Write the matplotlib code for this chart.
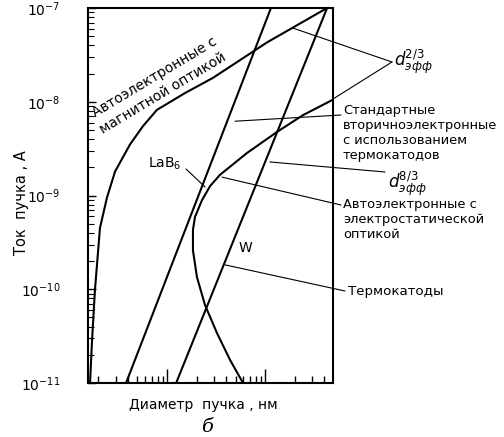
import numpy as np
import matplotlib.pyplot as plt
from matplotlib.ticker import LogLocator, NullFormatter

plt.rcParams['font.family'] = ['DejaVu Sans']

# Field emission, magnetic optics
mag_d = [1.64, 1.72, 1.84, 2.07, 2.44, 2.95, 4.19, 5.69, 7.9, 15.3, 29.5, 105, 430]
mag_i = [1e-11, 2.9e-11, 9.8e-11, 4.5e-10, 9.5e-10, 1.8e-9, 3.5e-9, 5.5e-9,
         8.2e-9, 1.24e-8, 1.8e-8, 4.3e-8, 1e-7]

# Field emission, electrostatic optics
es_d = [59.7, 44.0, 32.4, 24.4, 20.2, 18.4, 18.4, 19.3, 22.8, 27.5, 34.7, 65.5, 132, 244, 483]
es_i = [1e-11, 1.76e-11, 3.4e-11, 6.8e-11, 1.35e-10, 2.6e-10, 4.3e-10, 5.9e-10,
        8.96e-10, 1.26e-9, 1.66e-9, 2.84e-9, 4.75e-9, 7.2e-9, 1.04e-8]

# Thermionic cathodes (d^8/3)
lab6_d = [3.82, 115]
lab6_i = [1e-11, 1e-7]
w_d = [12.4, 430]
w_i = [1e-11, 1e-7]

W, H = 504, 437
fig = plt.figure(figsize=(W / 100, H / 100), dpi=100)
ax = fig.add_axes([88 / W, 1 - 383 / H, 245 / W, 375 / H])


def fp(px, py):
    return (px / W, 1 - py / H)


ax.plot(mag_d, mag_i, color='k', lw=1.5)
ax.plot(es_d, es_i, color='k', lw=1.5)
ax.plot(lab6_d, lab6_i, color='k', lw=1.5)
ax.plot(w_d, w_i, color='k', lw=1.5)

ax.set_xscale('log')
ax.set_yscale('log')
ax.set_xlim(1.563, 494)
ax.set_ylim(1e-11, 1e-7)

ax.xaxis.set_major_locator(LogLocator(base=10))
ax.xaxis.set_minor_locator(LogLocator(base=10, subs=np.arange(2, 10)))
ax.xaxis.set_major_formatter(NullFormatter())
ax.xaxis.set_minor_formatter(NullFormatter())
ax.yaxis.set_major_locator(LogLocator(base=10))
ax.yaxis.set_minor_locator(LogLocator(base=10, subs=np.arange(2, 10)))
ax.yaxis.set_minor_formatter(NullFormatter())

ax.tick_params(axis='x', which='major', direction='in', length=10, width=1)
ax.tick_params(axis='x', which='minor', direction='in', length=5, width=1)
ax.tick_params(axis='y', which='major', direction='in', length=6, width=1,
               labelsize=10, pad=20)
ax.tick_params(axis='y', which='minor', direction='in', length=4, width=0.8)
for s in ax.spines.values():
    s.set_linewidth(1.5)

fig.text(*fp(22, 203), 'Ток  пучка , А', fontsize=10.5, rotation=90,
         ha='center', va='center')
fig.text(*fp(203, 405), 'Диаметр  пучка , нм', fontsize=10, ha='center', va='center')
fig.text(*fp(207, 427), 'б', fontsize=14, ha='center', va='center',
         family='DejaVu Serif', style='italic')

# rotated label on magnetic curve
fig.text(*fp(95, 117), 'Автоэлектронные с', fontsize=10, rotation=31,
         rotation_mode='anchor', ha='left', va='baseline')
fig.text(*fp(103, 134), 'магнитной оптикой', fontsize=10, rotation=31,
         rotation_mode='anchor', ha='left', va='baseline')

fig.text(*fp(148, 164), 'LaB$_6$', fontsize=10, ha='left', va='center')
fig.text(*fp(245, 248), 'W', fontsize=10, ha='center', va='center')

fig.text(*fp(394, 62), 'd$^{2/3}_{эфф}$', fontsize=12, ha='left', va='center',
         style='italic')
fig.text(*fp(388, 184), 'd$^{8/3}_{эфф}$', fontsize=12, ha='left', va='center',
         style='italic')
fig.text(*fp(343, 104), 'Стандартные\nвторичноэлектронные\nс использованием\nтермокатодов',
         fontsize=9.4, ha='left', va='top', linespacing=1.2)
fig.text(*fp(343, 198), 'Автоэлектронные с\nэлектростатической\nоптикой',
         fontsize=9.4, ha='left', va='top', linespacing=1.2)
fig.text(*fp(348, 291), 'Термокатоды', fontsize=9.6, ha='left', va='center')

lead = dict(arrowstyle='-', lw=0.8, color='k', shrinkA=0, shrinkB=0)


def leader(xy, px, py):
    ax.annotate('', xy=xy, xycoords='data', xytext=fp(px, py),
                textcoords='figure fraction', arrowprops=lead,
                annotation_clip=False)


leader((193, 6.1e-8), 392, 62)
leader((480, 1.05e-8), 392, 62)
leader((49.4, 6.2e-9), 341, 115)
leader((112, 2.28e-9), 385, 172)
leader((36.4, 1.57e-9), 341, 205)
leader((39.1, 1.82e-10), 345, 291)
leader((24.5, 1.23e-9), 186, 169)

fig.savefig('out.png', dpi=100)
